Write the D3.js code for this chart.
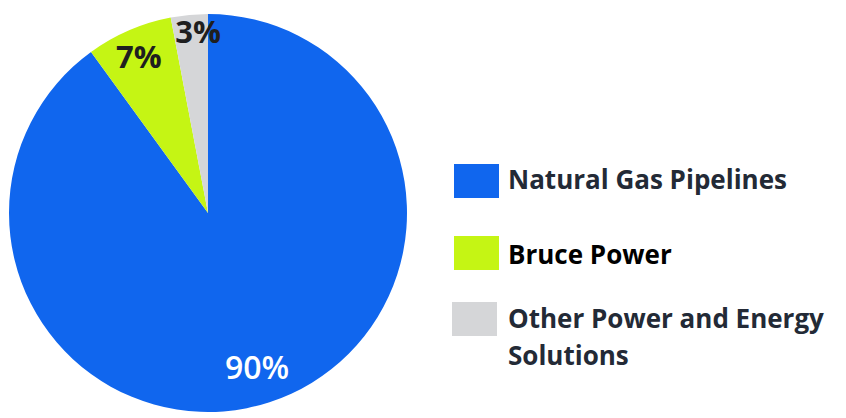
<!DOCTYPE html>
<html>
<head>
<meta charset="utf-8">
<script src="https://cdn.jsdelivr.net/npm/d3@7"></script>
<style>
  body { margin: 0; background: #fff; }
  text { font-family: "Open Sans", sans-serif; font-weight: 700; }
</style>
</head>
<body>
<svg id="chart" width="846" height="418"></svg>
<script>
// segment data
const segments = ["Natural Gas Pipelines", "Bruce Power", "Other Power and Energy Solutions"];
const shares = [90, 7, 3];
const colors = ["#1066EE", "#C5F514", "#D5D6D8"];
const pctLabels = ["90%", "7%", "3%"];
const legendLines = [["Natural Gas Pipelines"], ["Bruce Power"], ["Other Power and Energy", "Solutions"]];

const svg = d3.select("#chart");
const cx = 208, cy = 213, radius = 199;

const pie = d3.pie().sort(null).value(d => d);
const arcs = pie(shares);
const arc = d3.arc().innerRadius(0).outerRadius(radius);

const g = svg.append("g").attr("transform", `translate(${cx},${cy})`);

g.selectAll("path")
  .data(arcs)
  .join("path")
  .attr("d", arc)
  .attr("fill", (d, i) => colors[i]);

// label spots, hand placed (angle in radians from 12 o'clock, distance from centre)
const labelAngle = [2.834, 5.867, 6.228];
const labelRadius = [162, 171, 181];
const labelColor = ["#ffffff", "#1f1f1f", "#1f1f1f"];
g.selectAll("text.pct")
  .data(arcs)
  .join("text")
  .attr("class", "pct")
  .attr("transform", function(d, i) {
      let a = labelAngle[i];
      const r = labelRadius[i];
      return `translate(${Math.sin(a) * r},${-Math.cos(a) * r})`;
  })
  .attr("text-anchor", "middle")
  .attr("dy", "0.36em")
  .attr("fill", (d, i) => labelColor[i])
  .style("font-size", (d, i) => i == 0 ? "32px" : "31px")
  .style("font-weight", (d, i) => i == 0 ? 600 : 700)
  .text((d, i) => pctLabels[i]);

// legend
const legendY = [181, 253, 319];
const textY = [189, 264, 328];
const legendX = [454, 454, 452];
const textCol = ["#232a36", "#000000", "#232a36"];
const leg = svg.append("g");
segments.forEach(function(s, i) {
    leg.append("rect")
      .attr("x", legendX[i])
      .attr("y", legendY[i] - 17)
      .attr("width", 45)
      .attr("height", 34)
      .attr("fill", colors[i]);
    const t = leg.append("text")
      .attr("x", 508)
      .attr("y", textY[i])
      .attr("fill", textCol[i])
      .style("font-size", "26px");
    legendLines[i].forEach(function(line, j) {
        t.append("tspan")
          .attr("x", 508)
          .attr("dy", j == 0 ? 0 : 37)
          .text(line);
    });
});
</script>
</body>
</html>
